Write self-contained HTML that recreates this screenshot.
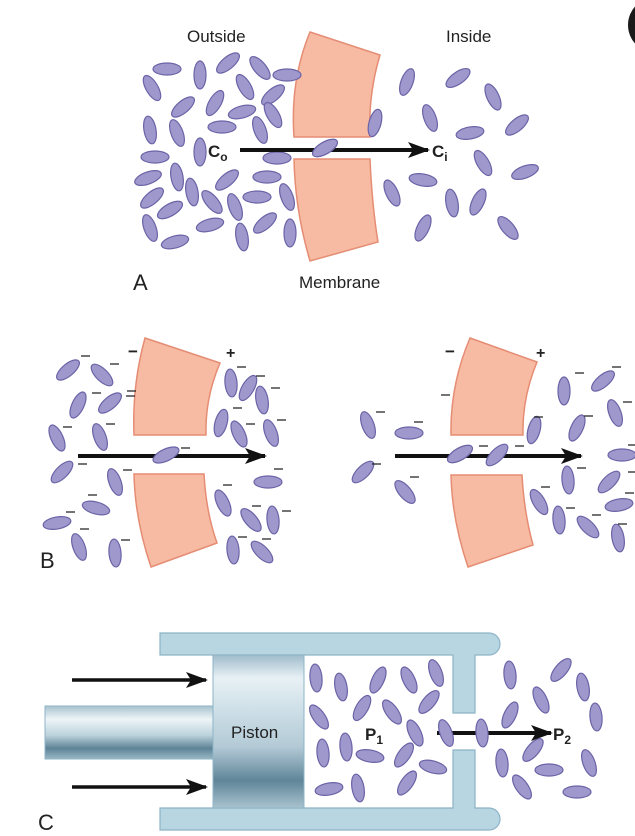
<!DOCTYPE html>
<html><head><meta charset="utf-8"><style>
html,body{margin:0;padding:0;background:#fff}
svg{display:block}
.e{fill:#9e98cc;stroke:#6a63a6;stroke-width:1.2}
.m{fill:#f7baa2;stroke:#e58d74;stroke-width:1.5}
.t{font-family:"Liberation Sans",sans-serif;fill:#222}
.d{stroke:#222;stroke-width:1.3}
.cy{fill:#b8d5e2;stroke:#8db4c7;stroke-width:1.2}
</style></head><body>
<svg width="635" height="836" viewBox="0 0 635 836" xmlns="http://www.w3.org/2000/svg">
<defs>
<marker id="ah" markerWidth="22" markerHeight="16" refX="20" refY="8" orient="auto" markerUnits="userSpaceOnUse" viewBox="0 0 22 16"><path d="M0,0 L22,8 L0,16 L5,8z" fill="#111"/></marker>
<linearGradient id="pg" x1="0" y1="0" x2="0" y2="1">
<stop offset="0" stop-color="#9fbccb"/><stop offset="0.15" stop-color="#e8f1f5"/><stop offset="0.35" stop-color="#cfe0e8"/><stop offset="0.6" stop-color="#b3cad6"/><stop offset="0.82" stop-color="#5f8598"/><stop offset="1" stop-color="#a9c3cf"/></linearGradient>
<linearGradient id="rg" x1="0" y1="0" x2="0" y2="1">
<stop offset="0" stop-color="#a7c2cf"/><stop offset="0.25" stop-color="#eef5f8"/><stop offset="0.55" stop-color="#bcd2dc"/><stop offset="0.8" stop-color="#5d8396"/><stop offset="1" stop-color="#9ab7c5"/></linearGradient>
</defs>
<style>.e ellipse,ellipse.e{rx:14px;ry:6px}</style>

<circle cx="656" cy="25" r="28" fill="#1a1a1a"/>

<!-- Panel A -->
<text class="t" x="187" y="42" font-size="17">Outside</text>
<text class="t" x="446" y="42" font-size="17">Inside</text>
<text class="t" x="299" y="288" font-size="17">Membrane</text>
<text class="t" x="133" y="290" font-size="22">A</text>
<path class="m" d="M310,32 L380,55 Q368,95 370,137 L294,137 Q290,80 310,32z"/>
<path class="m" d="M294,159 L370,159 Q372,205 378,242 L310,261 Q295,210 294,159z"/>
<g class="e">
<ellipse cx="167" cy="69" rx="13" ry="5.5"/>
<ellipse cx="152" cy="88" rx="13" ry="5.5" transform="rotate(60 152 88)"/>
<ellipse cx="200" cy="75" rx="13" ry="5.5" transform="rotate(90 200 75)"/>
<ellipse cx="228" cy="63" rx="13" ry="5.5" transform="rotate(-40 228 63)"/>
<ellipse cx="260" cy="68" rx="13" ry="5.5" transform="rotate(50 260 68)"/>
<ellipse cx="287" cy="75" rx="13" ry="5.5"/>
<ellipse cx="245" cy="87" rx="13" ry="5.5" transform="rotate(60 245 87)"/>
<ellipse cx="273" cy="95" rx="13" ry="5.5" transform="rotate(-40 273 95)"/>
<ellipse cx="183" cy="107" rx="13" ry="5.5" transform="rotate(-40 183 107)"/>
<ellipse cx="215" cy="103" rx="13" ry="5.5" transform="rotate(-60 215 103)"/>
<ellipse cx="242" cy="112" rx="13" ry="5.5" transform="rotate(-15 242 112)"/>
<ellipse cx="150" cy="130" rx="13" ry="5.5" transform="rotate(80 150 130)"/>
<ellipse cx="177" cy="133" rx="13" ry="5.5" transform="rotate(70 177 133)"/>
<ellipse cx="222" cy="127" rx="13" ry="5.5"/>
<ellipse cx="260" cy="130" rx="13" ry="5.5" transform="rotate(70 260 130)"/>
<ellipse cx="273" cy="115" rx="13" ry="5.5" transform="rotate(60 273 115)"/>
<ellipse cx="200" cy="152" rx="13" ry="5.5" transform="rotate(90 200 152)"/>
<ellipse cx="155" cy="157" rx="13" ry="5.5"/>
<ellipse cx="177" cy="177" rx="13" ry="5.5" transform="rotate(80 177 177)"/>
<ellipse cx="148" cy="178" rx="13" ry="5.5" transform="rotate(-20 148 178)"/>
<ellipse cx="227" cy="180" rx="13" ry="5.5" transform="rotate(-40 227 180)"/>
<ellipse cx="267" cy="177" rx="13" ry="5.5"/>
<ellipse cx="277" cy="158" rx="13" ry="5.5"/>
<ellipse cx="192" cy="192" rx="13" ry="5.5" transform="rotate(80 192 192)"/>
<ellipse cx="152" cy="198" rx="13" ry="5.5" transform="rotate(-40 152 198)"/>
<ellipse cx="212" cy="202" rx="13" ry="5.5" transform="rotate(50 212 202)"/>
<ellipse cx="235" cy="207" rx="13" ry="5.5" transform="rotate(70 235 207)"/>
<ellipse cx="257" cy="197" rx="13" ry="5.5"/>
<ellipse cx="287" cy="197" rx="13" ry="5.5" transform="rotate(70 287 197)"/>
<ellipse cx="170" cy="210" rx="13" ry="5.5" transform="rotate(-30 170 210)"/>
<ellipse cx="210" cy="225" rx="13" ry="5.5" transform="rotate(-15 210 225)"/>
<ellipse cx="150" cy="228" rx="13" ry="5.5" transform="rotate(70 150 228)"/>
<ellipse cx="175" cy="242" rx="13" ry="5.5" transform="rotate(-15 175 242)"/>
<ellipse cx="242" cy="237" rx="13" ry="5.5" transform="rotate(80 242 237)"/>
<ellipse cx="265" cy="223" rx="13" ry="5.5" transform="rotate(-40 265 223)"/>
<ellipse cx="290" cy="233" rx="13" ry="5.5" transform="rotate(90 290 233)"/>
<ellipse cx="375" cy="123" rx="13" ry="5.5" transform="rotate(-75 375 123)"/>
<ellipse cx="407" cy="82" rx="13" ry="5.5" transform="rotate(-70 407 82)"/>
<ellipse cx="458" cy="78" rx="13" ry="5.5" transform="rotate(-35 458 78)"/>
<ellipse cx="493" cy="97" rx="13" ry="5.5" transform="rotate(65 493 97)"/>
<ellipse cx="430" cy="118" rx="13" ry="5.5" transform="rotate(70 430 118)"/>
<ellipse cx="470" cy="133" rx="13" ry="5.5" transform="rotate(-10 470 133)"/>
<ellipse cx="517" cy="125" rx="13" ry="5.5" transform="rotate(-40 517 125)"/>
<ellipse cx="483" cy="163" rx="13" ry="5.5" transform="rotate(60 483 163)"/>
<ellipse cx="525" cy="172" rx="13" ry="5.5" transform="rotate(-20 525 172)"/>
<ellipse cx="423" cy="180" rx="13" ry="5.5" transform="rotate(10 423 180)"/>
<ellipse cx="392" cy="193" rx="13" ry="5.5" transform="rotate(65 392 193)"/>
<ellipse cx="452" cy="203" rx="13" ry="5.5" transform="rotate(80 452 203)"/>
<ellipse cx="478" cy="202" rx="13" ry="5.5" transform="rotate(-65 478 202)"/>
<ellipse cx="423" cy="228" rx="13" ry="5.5" transform="rotate(-65 423 228)"/>
<ellipse cx="508" cy="228" rx="13" ry="5.5" transform="rotate(50 508 228)"/>
</g>
<line x1="240" y1="150" x2="428" y2="150" stroke="#111" stroke-width="4" marker-end="url(#ah)"/>
<ellipse class="e" cx="325" cy="148" rx="13" ry="5.5" transform="rotate(-30 325 148)"/>
<text class="t" x="208" y="157" font-size="17" font-weight="bold">C<tspan font-size="12" dy="4">o</tspan></text>
<text class="t" x="432" y="157" font-size="17" font-weight="bold">C<tspan font-size="12" dy="4">i</tspan></text>

<!-- Panel B -->
<text class="t" x="40" y="568" font-size="22">B</text>
<path class="m" d="M145,338 L220,363 Q205,398 206,435 L134,435 Q132,385 145,338z"/>
<path class="m" d="M134,474 L204,474 Q206,512 217,543 L151,567 Q135,520 134,474z"/>
<path class="m" d="M470,338 L537,362 Q522,398 523,435 L451,435 Q450,385 470,338z"/>
<path class="m" d="M451,475 L522,475 Q524,512 533,545 L468,567 Q452,520 451,475z"/>
<text class="t" x="128" y="357" font-size="17" font-weight="bold">−</text>
<text class="t" x="226" y="358" font-size="16" font-weight="bold">+</text>
<text class="t" x="445" y="357" font-size="17" font-weight="bold">−</text>
<text class="t" x="536" y="358" font-size="16" font-weight="bold">+</text>
<g class="e">
<ellipse cx="68" cy="370" rx="13" ry="5.5" transform="rotate(-40 68 370)"/>
<ellipse cx="102" cy="375" rx="13" ry="5.5" transform="rotate(45 102 375)"/>
<ellipse cx="78" cy="405" rx="13" ry="5.5" transform="rotate(-65 78 405)"/>
<ellipse cx="110" cy="403" rx="13" ry="5.5" transform="rotate(-40 110 403)"/>
<ellipse cx="57" cy="438" rx="13" ry="5.5" transform="rotate(65 57 438)"/>
<ellipse cx="100" cy="437" rx="13" ry="5.5" transform="rotate(70 100 437)"/>
<ellipse cx="62" cy="472" rx="13" ry="5.5" transform="rotate(-45 62 472)"/>
<ellipse cx="115" cy="482" rx="13" ry="5.5" transform="rotate(70 115 482)"/>
<ellipse cx="96" cy="508" rx="13" ry="5.5" transform="rotate(15 96 508)"/>
<ellipse cx="57" cy="523" rx="13" ry="5.5" transform="rotate(-10 57 523)"/>
<ellipse cx="79" cy="547" rx="13" ry="5.5" transform="rotate(70 79 547)"/>
<ellipse cx="115" cy="553" rx="13" ry="5.5" transform="rotate(85 115 553)"/>
<ellipse cx="231" cy="383" rx="13" ry="5.5" transform="rotate(85 231 383)"/>
<ellipse cx="248" cy="388" rx="13" ry="5.5" transform="rotate(-60 248 388)"/>
<ellipse cx="262" cy="400" rx="13" ry="5.5" transform="rotate(80 262 400)"/>
<ellipse cx="221" cy="423" rx="13" ry="5.5" transform="rotate(-75 221 423)"/>
<ellipse cx="239" cy="434" rx="13" ry="5.5" transform="rotate(65 239 434)"/>
<ellipse cx="271" cy="433" rx="13" ry="5.5" transform="rotate(70 271 433)"/>
<ellipse cx="268" cy="482" rx="13" ry="5.5"/>
<ellipse cx="223" cy="503" rx="13" ry="5.5" transform="rotate(65 223 503)"/>
<ellipse cx="251" cy="520" rx="13" ry="5.5" transform="rotate(50 251 520)"/>
<ellipse cx="273" cy="520" rx="13" ry="5.5" transform="rotate(85 273 520)"/>
<ellipse cx="233" cy="550" rx="13" ry="5.5" transform="rotate(85 233 550)"/>
<ellipse cx="262" cy="552" rx="13" ry="5.5" transform="rotate(45 262 552)"/>
<ellipse cx="368" cy="425" rx="13" ry="5.5" transform="rotate(70 368 425)"/>
<ellipse cx="409" cy="433" rx="13" ry="5.5"/>
<ellipse cx="363" cy="472" rx="13" ry="5.5" transform="rotate(-45 363 472)"/>
<ellipse cx="405" cy="492" rx="13" ry="5.5" transform="rotate(50 405 492)"/>
<ellipse cx="534" cy="430" rx="13" ry="5.5" transform="rotate(-75 534 430)"/>
<ellipse cx="564" cy="391" rx="13" ry="5.5" transform="rotate(90 564 391)"/>
<ellipse cx="603" cy="381" rx="13" ry="5.5" transform="rotate(-40 603 381)"/>
<ellipse cx="577" cy="428" rx="13" ry="5.5" transform="rotate(-65 577 428)"/>
<ellipse cx="615" cy="413" rx="13" ry="5.5" transform="rotate(70 615 413)"/>
<ellipse cx="568" cy="480" rx="13" ry="5.5" transform="rotate(85 568 480)"/>
<ellipse cx="622" cy="455" rx="13" ry="5.5"/>
<ellipse cx="609" cy="482" rx="13" ry="5.5" transform="rotate(-45 609 482)"/>
<ellipse cx="539" cy="502" rx="13" ry="5.5" transform="rotate(60 539 502)"/>
<ellipse cx="559" cy="520" rx="13" ry="5.5" transform="rotate(85 559 520)"/>
<ellipse cx="588" cy="527" rx="13" ry="5.5" transform="rotate(45 588 527)"/>
<ellipse cx="619" cy="505" rx="13" ry="5.5" transform="rotate(-10 619 505)"/>
<ellipse cx="618" cy="538" rx="13" ry="5.5" transform="rotate(80 618 538)"/>
</g>
<g class="d">
<path d="M81,356h9M110,364h9M92,393h9M126,396h9M127,391h9M63,427h9M106,424h9M78,464h9M123,470h9M88,495h9M66,512h9M80,529h9M121,540h9M237,367h9M256,376h9M271,388h9M233,408h9M246,424h9M277,420h9M274,469h9M223,485h9M252,506h9M282,511h9M238,537h9M262,539h9M181,448h9M376,412h9M414,422h9M372,464h9M410,477h9M441,395h9M534,417h9M575,373h9M612,367h9M584,416h9M623,402h9M577,468h9M628,445h9M628,472h9M541,487h9M566,508h9M592,515h9M625,493h9M618,524h9M479,446h9M515,446h9"/>
</g>
<line x1="78" y1="456" x2="265" y2="456" stroke="#111" stroke-width="4" marker-end="url(#ah)"/>
<line x1="395" y1="456" x2="581" y2="456" stroke="#111" stroke-width="4" marker-end="url(#ah)"/>
<g class="e">
<ellipse cx="166" cy="455" rx="13" ry="5.5" transform="rotate(-25 166 455)"/>
<ellipse cx="460" cy="454" rx="13" ry="5.5" transform="rotate(-30 460 454)"/>
<ellipse cx="497" cy="455" rx="13" ry="5.5" transform="rotate(-45 497 455)"/>
</g>

<!-- Panel C -->
<text class="t" x="38" y="830" font-size="22">C</text>
<path class="cy" d="M160,633 H489 A11,11 0 0 1 489,655 H475 V713 H453 V655 H160z"/>
<path class="cy" d="M160,830 H489 A11,11 0 0 0 489,808 H475 V750 H453 V808 H160z"/>
<rect x="45" y="706" width="168" height="53" fill="url(#rg)" stroke="#8db4c7"/>
<rect x="213" y="655" width="91" height="153" fill="url(#pg)" stroke="#8db4c7"/>
<text class="t" x="231" y="738" font-size="17">Piston</text>
<line x1="72" y1="680" x2="206" y2="680" stroke="#111" stroke-width="3.5" marker-end="url(#ah)"/>
<line x1="72" y1="787" x2="206" y2="787" stroke="#111" stroke-width="3.5" marker-end="url(#ah)"/>
<g class="e">
<ellipse cx="316" cy="678" rx="13" ry="5.5" transform="rotate(85 316 678)"/>
<ellipse cx="341" cy="687" rx="13" ry="5.5" transform="rotate(80 341 687)"/>
<ellipse cx="378" cy="680" rx="13" ry="5.5" transform="rotate(-65 378 680)"/>
<ellipse cx="409" cy="680" rx="13" ry="5.5" transform="rotate(65 409 680)"/>
<ellipse cx="436" cy="673" rx="13" ry="5.5" transform="rotate(70 436 673)"/>
<ellipse cx="319" cy="717" rx="13" ry="5.5" transform="rotate(55 319 717)"/>
<ellipse cx="362" cy="708" rx="13" ry="5.5" transform="rotate(-60 362 708)"/>
<ellipse cx="392" cy="712" rx="13" ry="5.5" transform="rotate(55 392 712)"/>
<ellipse cx="429" cy="702" rx="13" ry="5.5" transform="rotate(-50 429 702)"/>
<ellipse cx="346" cy="747" rx="13" ry="5.5" transform="rotate(85 346 747)"/>
<ellipse cx="415" cy="733" rx="13" ry="5.5" transform="rotate(65 415 733)"/>
<ellipse cx="323" cy="753" rx="13" ry="5.5" transform="rotate(85 323 753)"/>
<ellipse cx="370" cy="756" rx="13" ry="5.5" transform="rotate(10 370 756)"/>
<ellipse cx="404" cy="755" rx="13" ry="5.5" transform="rotate(-55 404 755)"/>
<ellipse cx="433" cy="767" rx="13" ry="5.5" transform="rotate(15 433 767)"/>
<ellipse cx="329" cy="789" rx="13" ry="5.5" transform="rotate(-10 329 789)"/>
<ellipse cx="358" cy="788" rx="13" ry="5.5" transform="rotate(80 358 788)"/>
<ellipse cx="407" cy="783" rx="13" ry="5.5" transform="rotate(-55 407 783)"/>
<ellipse cx="510" cy="675" rx="13" ry="5.5" transform="rotate(85 510 675)"/>
<ellipse cx="561" cy="670" rx="13" ry="5.5" transform="rotate(-50 561 670)"/>
<ellipse cx="541" cy="700" rx="13" ry="5.5" transform="rotate(65 541 700)"/>
<ellipse cx="583" cy="687" rx="13" ry="5.5" transform="rotate(80 583 687)"/>
<ellipse cx="510" cy="715" rx="13" ry="5.5" transform="rotate(-65 510 715)"/>
<ellipse cx="596" cy="717" rx="13" ry="5.5" transform="rotate(85 596 717)"/>
<ellipse cx="533" cy="750" rx="13" ry="5.5" transform="rotate(-50 533 750)"/>
<ellipse cx="502" cy="763" rx="13" ry="5.5" transform="rotate(85 502 763)"/>
<ellipse cx="549" cy="770" rx="13" ry="5.5"/>
<ellipse cx="589" cy="763" rx="13" ry="5.5" transform="rotate(70 589 763)"/>
<ellipse cx="522" cy="787" rx="13" ry="5.5" transform="rotate(55 522 787)"/>
<ellipse cx="577" cy="792" rx="13" ry="5.5"/>
</g>
<line x1="437" y1="733" x2="551" y2="733" stroke="#111" stroke-width="4" marker-end="url(#ah)"/>
<ellipse class="e" cx="446" cy="733" rx="13" ry="5.5" transform="rotate(70 446 733)"/>
<ellipse class="e" cx="482" cy="733" rx="13" ry="5.5" transform="rotate(85 482 733)"/>
<text class="t" x="365" y="740" font-size="17" font-weight="bold">P<tspan font-size="12" dy="4">1</tspan></text>
<text class="t" x="553" y="740" font-size="17" font-weight="bold">P<tspan font-size="12" dy="4">2</tspan></text>
</svg>
</body></html>
